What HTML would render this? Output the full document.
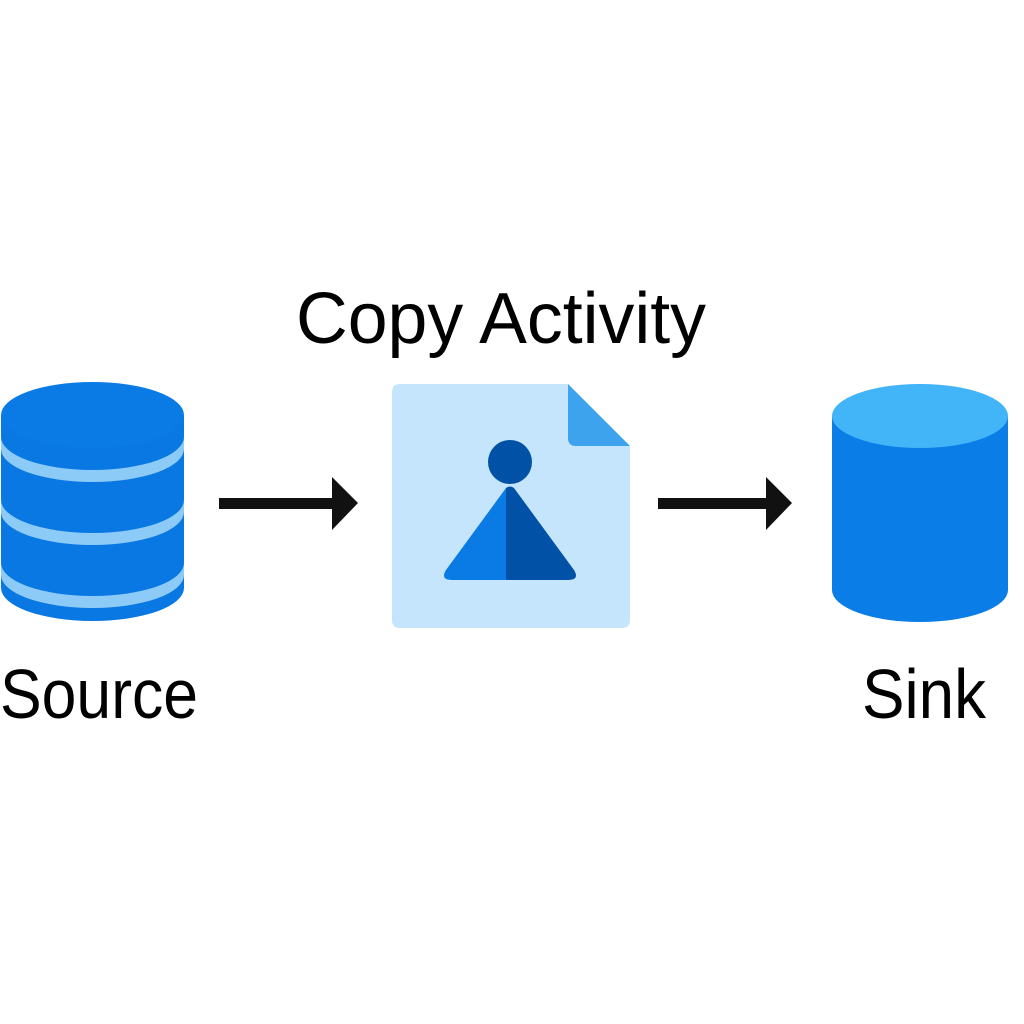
<!DOCTYPE html>
<html><head><meta charset="utf-8"><style>html,body{margin:0;padding:0;background:#fff}svg{display:block}</style></head>
<body>
<svg width="1024" height="1024" viewBox="0 0 1024 1024" xmlns="http://www.w3.org/2000/svg">
<rect width="1024" height="1024" fill="#fff"/>
<g font-family="Liberation Sans, sans-serif" fill="#000">
<text x="296" y="343" font-size="72" textLength="410" lengthAdjust="spacingAndGlyphs">Copy Activity</text>
<text x="0" y="718" font-size="70" textLength="198" lengthAdjust="spacingAndGlyphs">Source</text>
<text x="862" y="718" font-size="70" textLength="124" lengthAdjust="spacingAndGlyphs">Sink</text>
</g>
<!-- Source cylinder -->
<g>
<path d="M1 415 L1 588 A91.5 33 0 0 0 184 588 L184 415 Z" fill="#0a78e2"/>
<path d="M1 437 A91.5 33 0 0 0 184 437 L184 449 A91.5 33 0 0 1 1 449 Z" fill="#8ccbf7"/>
<path d="M1 500 A91.5 33 0 0 0 184 500 L184 512 A91.5 33 0 0 1 1 512 Z" fill="#8ccbf7"/>
<path d="M1 563 A91.5 33 0 0 0 184 563 L184 575 A91.5 33 0 0 1 1 575 Z" fill="#8ccbf7"/>
<ellipse cx="92.5" cy="415" rx="91.5" ry="33" fill="#0a7ae4"/>
</g>
<!-- arrows -->
<rect x="219" y="498" width="116" height="11" fill="#111"/>
<polygon points="332,477 358,503 332,530" fill="#111"/>
<rect x="658" y="498" width="110" height="11" fill="#111"/>
<polygon points="766,477 792,503 766,530" fill="#111"/>
<!-- document -->
<path d="M400 384 L568 384 L630 446 L630 620 Q630 628 622 628 L400 628 Q392 628 392 620 L392 392 Q392 384 400 384 Z" fill="#c5e5fc"/>
<path d="M568 384 L630 446 L576 446 Q568 446 568 438 Z" fill="#3ca3ec"/>
<circle cx="510" cy="462" r="22" fill="#0152a6"/>
<path d="M506 488 L446 570 Q440 580 452 580 L506 580 Z" fill="#0a7ae4"/>
<path d="M506 488 Q510 485 514 488 L574 570 Q580 580 568 580 L506 580 Z" fill="#0152a6"/>
<!-- Sink cylinder -->
<path d="M832 416 L832 590 A88 32 0 0 0 1008 590 L1008 416 Z" fill="#0a7de6"/>
<ellipse cx="920" cy="416" rx="88" ry="32" fill="#42b4f8"/>
</svg>
</body></html>
